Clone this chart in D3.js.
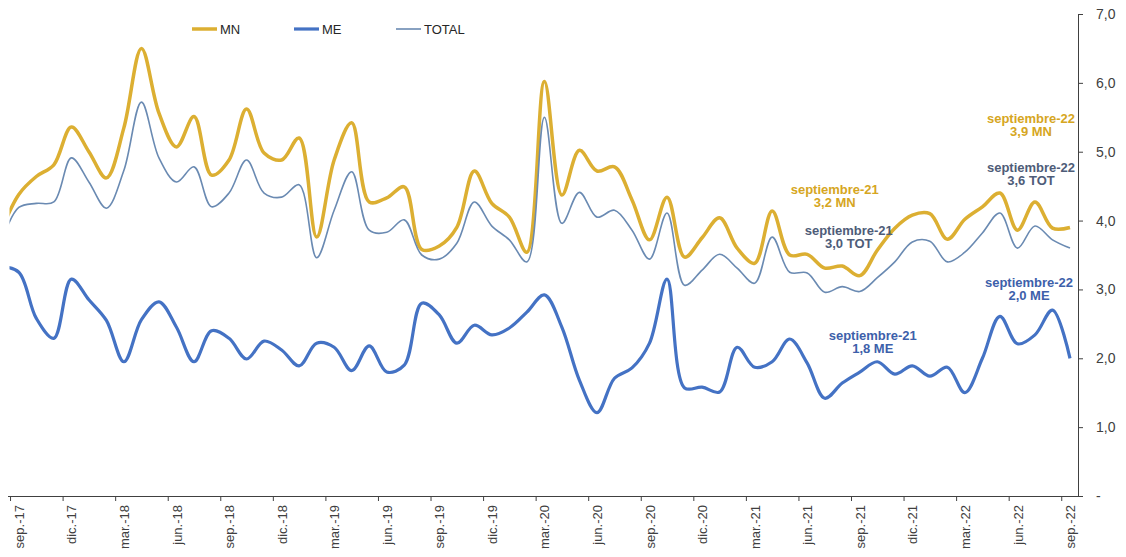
<!DOCTYPE html>
<html>
<head>
<meta charset="utf-8">
<script src="https://cdn.jsdelivr.net/npm/d3@7"></script>
<style>
  body { margin: 0; background: #fff; }
  svg { font-family: "Liberation Sans", Arial, sans-serif; }
</style>
</head>
<body>
<div id="chart"></div>
<script>
// Datos mensuales ago-17 .. sep-22 (ago-17 solo se ve cortado en el borde)
const mn = [3.85,
            4.38, 4.64, 4.81, 5.36, 5.0, 4.62, 5.35, 6.50, 5.56, 5.07,
            5.51, 4.66, 4.88, 5.62, 4.98, 4.88, 5.2, 3.76, 4.88, 5.42,
            4.27, 4.33, 4.49, 3.58, 3.63, 3.9, 4.72, 4.25, 4.05, 3.54,
            6.02, 4.37, 5.02, 4.72, 4.78, 4.30, 3.72, 4.34, 3.47, 3.75,
            4.04, 3.60, 3.38, 4.14, 3.50, 3.51, 3.31, 3.34, 3.2, 3.57,
            3.89, 4.08, 4.10, 3.73, 4.02, 4.20, 4.40, 3.86, 4.27, 3.89, 3.9];
const me = [3.33,
            3.25, 2.58, 2.29, 3.15, 2.85, 2.55, 1.95, 2.56, 2.82, 2.45,
            1.95, 2.40, 2.29, 1.99, 2.25, 2.12, 1.89, 2.22, 2.16, 1.82,
            2.18, 1.80, 1.90, 2.80, 2.63, 2.22, 2.48, 2.34, 2.44, 2.67,
            2.92, 2.45, 1.68, 1.21, 1.71, 1.86, 2.22, 3.15, 1.57, 1.58,
            1.51, 2.16, 1.87, 1.95, 2.28, 1.93, 1.42, 1.64, 1.80, 1.95,
            1.77, 1.89, 1.74, 1.87, 1.50, 2.0, 2.61, 2.21, 2.34, 2.70, 2.0];
const total = [3.7,
               4.19, 4.25, 4.27, 4.91, 4.56, 4.18, 4.73, 5.72, 4.91, 4.56,
               4.78, 4.20, 4.40, 4.88, 4.40, 4.34, 4.52, 3.46, 4.15, 4.71,
               3.86, 3.83, 4.01, 3.50, 3.44, 3.67, 4.27, 3.92, 3.72, 3.40,
               5.5, 3.96, 4.41, 4.05, 4.15, 3.86, 3.44, 4.11, 3.06, 3.28,
               3.51, 3.31, 3.09, 3.76, 3.25, 3.24, 2.96, 3.04, 2.97, 3.17,
               3.40, 3.69, 3.70, 3.40, 3.54, 3.82, 4.11, 3.60, 3.92, 3.72, 3.6];

const tickLabels = ["sep.-17", "dic.-17", "mar.-18", "jun.-18", "sep.-18", "dic.-18",
                    "mar.-19", "jun.-19", "sep.-19", "dic.-19", "mar.-20", "jun.-20",
                    "sep.-20", "dic.-20", "mar.-21", "jun.-21", "sep.-21", "dic.-21",
                    "mar.-22", "jun.-22", "sep.-22"];
const yTicks = [0, 1, 2, 3, 4, 5, 6, 7];

// Notas sobre los puntos (indice en los arrays)
const notes = [
  { i: 61, serie: "mn", lines: ["septiembre-22", "3,9 MN"] },
  { i: 61, serie: "tot", lines: ["septiembre-22", "3,6 TOT"] },
  { i: 49, serie: "mn", lines: ["septiembre-21", "3,2 MN"] },
  { i: 49, serie: "tot", lines: ["septiembre-21", "3,0 TOT"] },
  { i: 61, serie: "me", lines: ["septiembre-22", "2,0 ME"] },
  { i: 49, serie: "me", lines: ["septiembre-21", "1,8 ME"] }
];

const colors = { mn: "#DCAF32", me: "#4472C4", tot: "#6A8AB2" };
const noteColors = { mn: "#D6A622", me: "#3D60AA", tot: "#4E5C78" };
// desplazamientos de las notas respecto al punto
const noteOffsets = {
  "61mn": [-39, -109], "61tot": [-39, -81], "49mn": [-25, -86],
  "49tot": [-11, -61], "61me": [-41, -76], "49me": [13, -37]
};

renderChart();

function renderChart() {
  const width = 1126, height = 557;
  const svg = d3.select("#chart").append("svg")
    .attr("width", width)
    .attr("height", height);

  // una categoria por mes, el punto va en el centro de la categoria
  const x = d3.scaleLinear().domain([1, 61]).range([18.8, 1070]);
  const half = (x(1) - x(0)) / 2;
  const y = d3.scaleLinear().domain([0, 7]).range([496, 14]);

  svg.append("clipPath").attr("id", "plot")
    .append("rect").attr("x", 9.5).attr("y", 0)
    .attr("width", 1068).attr("height", 500);

  // eje X
  const xAxis = svg.append("g")
    .attr("transform", "translate(0,496)")
    .call(d3.axisBottom(x)
      .tickValues(d3.range(0.5, 61, 3))
      .tickSize(5)
      .tickSizeOuter(0)
      .tickFormat((d, k) => tickLabels[k]));
  xAxis.select(".domain").remove();
  xAxis.selectAll(".tick line").attr("stroke", "#404040");
  xAxis.selectAll(".tick text")
    .attr("x", 0).attr("y", 0)
    .attr("dy", "0.35em")
    .attr("transform", `translate(${half},9) rotate(-90)`)
    .style("text-anchor", "end")
    .style("font-size", "13px")
    .attr("fill", "#404040");
  svg.append("line")
    .attr("x1", 8).attr("x2", 1078)
    .attr("y1", 496.5).attr("y2", 496.5)
    .attr("stroke", "#404040");

  // eje Y derecho
  const yAxis = svg.append("g")
    .attr("transform", "translate(1078,0)")
    .call(d3.axisRight(y)
      .tickValues(yTicks)
      .tickSize(5)
      .tickSizeOuter(0)
      .tickPadding(13)
      .tickFormat(d => d === 0 ? "-" : d.toFixed(1).replace(".", ",")));
  yAxis.select(".domain").attr("stroke", "#404040");
  yAxis.selectAll(".tick line").attr("stroke", "#404040");
  yAxis.selectAll(".tick text")
    .style("font-size", "14px")
    .attr("fill", "#404040");

  const line = d3.line()
    .x((d, i) => x(i))
    .y(d => y(d))
    .curve(d3.curveCatmullRom.alpha(0.5));

  // series
  const lines = svg.append("g").attr("clip-path", "url(#plot)");
  lines.append("path").datum(me)
    .attr("fill", "none").attr("stroke", colors.me)
    .attr("stroke-width", 3.2).attr("d", line);
  lines.append("path").datum(mn)
    .attr("fill", "none").attr("stroke", colors.mn)
    .attr("stroke-width", 3.5).attr("d", line);
  lines.append("path").datum(total)
    .attr("fill", "none").attr("stroke", colors.tot)
    .attr("stroke-width", 1.6).attr("d", line);

  // leyenda
  const legend = [
    { name: "MN", c: colors.mn, w: 3.5, x: 192 },
    { name: "ME", c: colors.me, w: 3.2, x: 294 },
    { name: "TOTAL", c: colors.tot, w: 1.6, x: 396 }
  ];
  const lg = svg.append("g").selectAll("g").data(legend).enter().append("g")
    .attr("transform", d => `translate(${d.x},29)`);
  lg.append("line").attr("x1", 0).attr("x2", 25)
    .attr("stroke", d => d.c).attr("stroke-width", d => d.w);
  lg.append("text").attr("x", 28).attr("dy", "0.35em")
    .style("font-size", "13px").attr("fill", "#262626")
    .text(d => d.name);

  // notas
  const series = { mn: mn, me: me, tot: total };
  notes.forEach(n => {
    const off = noteOffsets[n.i + n.serie];
    const cx = x(n.i) + off[0];
    const cy = y(series[n.serie][n.i]) + off[1];
    const t = svg.append("text")
      .attr("text-anchor", "middle")
      .style("font-size", "13px")
      .style("font-weight", "bold")
      .attr("fill", noteColors[n.serie]);
    n.lines.forEach((s, k) => {
      t.append("tspan").attr("x", cx).attr("y", cy + k * 13)
        .attr("dy", "0.35em").text(s);
    });
  });
}
</script>
</body>
</html>
